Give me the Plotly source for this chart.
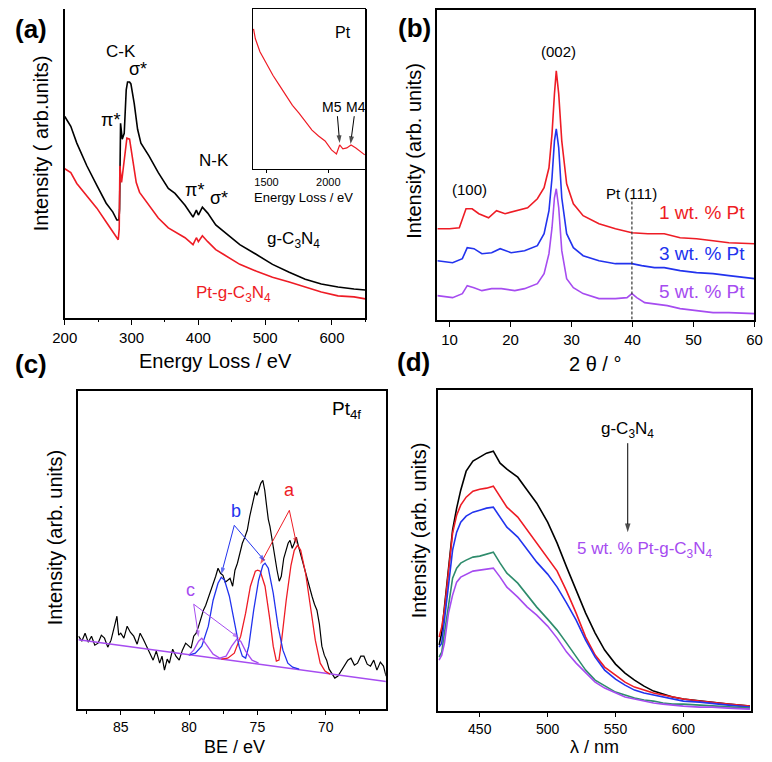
import plotly.graph_objects as go

# ---------------- Panel (a): EELS ----------------
a_black_E = [200, 209, 218, 233, 248, 262, 272, 278, 281, 282, 283.5, 286, 289, 292, 294, 297, 299, 304, 309, 314,
             326, 340, 355, 365, 380, 392, 397, 400, 406, 414, 426, 438, 462, 487, 511, 536, 560, 584, 609, 633, 650]
a_black = [204, 194, 177, 154, 134, 116, 107, 99, 99, 110, 197, 181, 187, 231, 239, 239, 237, 217, 191, 177,
           164, 147, 131, 126, 114, 102, 109, 104, 112, 106, 94, 87, 74, 64, 54, 46, 39, 34, 31, 29, 28]
a_red_E = [200, 209, 218, 233, 248, 262, 272, 280, 281.5, 282.5, 285, 289, 293, 297, 302, 307, 312, 326, 340, 355,
           365, 380, 392, 397, 400, 406, 414, 426, 438, 462, 487, 511, 536, 560, 584, 609, 633, 650]
a_red = [151, 147, 136, 124, 111, 97, 87, 79, 90, 154, 137, 161, 182, 181, 161, 137, 127, 114, 101, 91,
         87, 81, 74, 81, 77, 83, 77, 69, 64, 54, 47, 41, 36, 31, 26, 22, 21, 19]
inset_E = [1395, 1410, 1447, 1500, 1553, 1605, 1658, 1710, 1763, 1816, 1868, 1921, 1974, 2026, 2066, 2092, 2118,
           2150, 2184, 2223, 2295]
inset_I = [141, 131, 118, 106, 94, 84, 74, 64, 56, 48, 39, 33, 28, 19, 15, 24, 20, 21, 24, 21, 14]

# ---------------- Panel (b): XRD ----------------
b_t1 = [8, 10, 11.6, 12.7, 13.7, 14.8, 16.4, 17.7, 19.1, 21.2, 22.8, 24.4, 25.5, 26.3, 26.8, 27.2, 27.5, 27.9, 28.4,
        29.2, 30.3, 31.9, 34.5, 37.2, 39.9, 42.5, 45.2, 47.8, 50.5, 53.2, 55.8, 60]
b_pt1 = [91, 91, 92, 111, 111, 106, 102, 109, 106, 109, 112, 121, 132, 152, 186, 226, 249, 226, 179,
         136, 116, 104, 96, 91, 87, 86, 86, 82, 81, 79, 77, 76]
b_t3 = [8, 10.5, 12.1, 12.9, 14, 15.3, 16.9, 18.3, 20.1, 22.3, 24.4, 25.5, 26.3, 26.8, 27.2, 27.5, 27.9, 28.4, 29.2,
        30.3, 31.9, 34.5, 37.2, 39.9, 41.5, 43.6, 45.2, 47.8, 50.5, 53.2, 55.8, 60]
b_pt3 = [59, 57, 61, 72, 71, 66, 67, 71, 67, 69, 74, 86, 109, 142, 179, 191, 172, 122, 86,
         72, 64, 59, 56, 56, 54, 52, 52, 49, 47, 46, 44, 41]
b_t5 = [8, 10.5, 12.1, 12.9, 14, 15.3, 16.9, 18.5, 20.7, 22.3, 24.4, 25.5, 26.3, 26.8, 27.2, 27.5, 27.9, 28.4, 29.2,
        30.3, 31.9, 34.5, 37.2, 39.1, 39.9, 40.7, 42, 43.6, 45.7, 47.8, 50.5, 53.2, 55.8, 60]
b_pt5 = [24, 22, 26, 34, 32, 29, 31, 31, 29, 31, 36, 46, 66, 92, 122, 131, 112, 69, 41,
         32, 26, 21, 21, 22, 26, 22, 17, 16, 14, 11, 9, 7, 7, 6]
b_pt111 = [39.9, 39.9]
b_pt111_y = [0, 122]

# ---------------- Panel (c): XPS Pt4f ----------------
c_BE = [88.09, 87.85, 87.61, 87.38, 87.14, 86.9, 86.66, 86.42, 86.19, 85.95, 85.71, 85.5, 85.28, 85.15, 85.0,
        84.77, 84.53, 84.3, 84.05, 83.8, 83.58, 83.35, 83.10, 82.85, 82.63, 82.4, 82.15, 81.98, 81.8, 81.6,
        81.44, 81.2, 80.96, 80.72, 80.49, 80.25, 80.02, 79.85, 79.66, 79.48, 79.30, 79.1, 78.95, 78.78, 78.59,
        78.4, 78.24, 78.05, 77.88, 77.7, 77.52, 77.35, 77.17, 77.0, 76.81, 76.64, 76.46, 76.28, 76.10, 75.92,
        75.74, 75.56, 75.39, 75.27, 75.15, 75.03, 74.91, 74.75, 74.60, 74.46, 74.32, 74.2, 74.08, 73.96, 73.84,
        73.7, 73.56, 73.4, 73.25, 73.07, 72.89, 72.75, 72.61, 72.45, 72.30, 72.15, 71.99, 71.85, 71.71, 71.53,
        71.35, 71.18, 71.0, 70.82, 70.64, 70.46, 70.28, 70.1, 69.93, 69.75, 69.57, 69.33, 69.10, 68.86, 68.62,
        68.38, 68.15, 67.9, 67.67, 67.43, 67.20, 66.96, 66.72, 66.48, 66.25, 66.0, 65.77, 65.58]
c_raw = [73, 68, 76, 67, 73, 64, 66, 74, 71, 62, 69, 80, 93, 74, 76,
         71, 83, 77, 73, 65, 76, 70, 63, 55, 49, 58, 46, 53, 39, 50,
         46, 60, 53, 49, 59, 66, 63, 61, 73, 76, 83, 92, 99, 104, 111,
         119, 126, 133, 141, 136, 134, 127, 129, 131, 123, 139, 146, 157, 166, 172,
         179, 193, 203, 212, 218, 214, 219, 226, 229, 219, 203, 190, 183, 172, 163,
         150, 139, 128, 133, 151, 159, 166, 169, 161, 166, 172, 163, 156, 149, 140,
         129, 120, 113, 105, 99, 85, 63, 54, 49, 40, 36, 31, 33, 38, 43,
         49, 51, 44, 46, 53, 53, 45, 43, 49, 39, 47, 43, 33]
c_base_BE = [88.09, 65.58]
c_base = [69.3, 27.7]
c_a_BE = [77.64, 77.17, 76.69, 76.22, 75.86, 75.51, 75.15, 74.98, 74.79, 74.44, 74.08, 73.84, 73.61, 73.42,
          73.25, 72.89, 72.54, 72.30, 72.06, 71.83, 71.47, 71.12, 70.76, 70.40, 70.05, 69.69]
c_a = [50, 51, 56, 73, 96, 123, 138, 139, 138, 123, 89, 63, 48, 49,
       66, 109, 144, 159, 164, 159, 136, 103, 69, 46, 38, 35]
c_b_BE = [80.02, 79.54, 79.07, 78.59, 78.24, 77.88, 77.64, 77.40, 77.05, 76.69, 76.34, 76.10, 75.86, 75.63,
          75.27, 74.91, 74.60, 74.44, 74.20, 73.84, 73.49, 73.13, 72.77, 72.42, 71.94]
c_b = [54, 56, 63, 83, 109, 126, 132, 129, 113, 86, 63, 53, 51, 63,
       99, 129, 144, 146, 141, 116, 83, 59, 46, 42, 40]
c_c_BE = [80.02, 79.66, 79.30, 79.07, 78.71, 78.24, 77.76, 77.29, 76.88, 76.50, 76.22, 75.86, 75.39, 74.91]
c_c = [54, 59, 68, 71, 64, 55, 51, 53, 63, 70, 68, 58, 49, 46]

# ---------------- Panel (d): PL ----------------
d_wl = [420, 422, 424, 427, 430, 433, 436, 440, 445, 450, 455, 460, 465, 470, 478, 485, 492, 500, 507, 514,
        521, 528, 535, 542, 550, 557, 564, 571, 578, 585, 592, 600, 612, 621, 633, 649]
d_g = [66, 78, 104, 141, 181, 203, 221, 240, 250, 254, 258, 260, 248, 242, 234, 221, 208, 189, 168, 144,
       121, 98, 78, 61, 47, 38, 31, 25, 20, 17, 14, 12, 10, 9, 7, 5]
d_1 = [74, 84, 101, 141, 178, 196, 206, 214, 220, 222, 223, 225, 214, 204, 194, 181, 168, 154, 140, 120,
       98, 74, 56, 44, 36, 29, 24, 21, 18, 16, 14, 12, 10, 9, 7, 5]
d_2 = [64, 68, 91, 124, 161, 179, 189, 195, 199, 201, 203, 204, 194, 184, 174, 161, 149, 137, 124, 108,
       91, 71, 54, 41, 32, 26, 21, 18, 16, 14, 12, 10, 9, 8, 6, 4]
d_3 = [54, 59, 78, 108, 133, 143, 148, 151, 154, 155, 157, 159, 148, 138, 128, 116, 104, 92, 81, 68,
       54, 41, 31, 25, 19, 16, 13, 11, 10, 8, 7, 7, 6, 5, 4, 3]
d_5 = [51, 56, 68, 98, 116, 129, 134, 137, 140, 141, 142, 143, 134, 124, 114, 104, 96, 85, 73, 59,
       48, 38, 29, 23, 18, 14, 12, 10, 8, 7, 6, 5, 4, 4, 3, 2]

RED = "#ee1c25"
BLUE = "#2233ee"
PURPLE = "#a64cf0"
GREEN = "#2e8c6c"
FONT = "Liberation Sans, Arial, sans-serif"

W, H = 772, 762
OFF = 8  # page offset of the figure inside the browser window


def px(x):
    return (x - OFF) / W


def py(y):
    return 1 - (y - OFF) / H


fig = go.Figure()

# panel a
fig.add_trace(go.Scatter(x=a_black_E, y=a_black, mode="lines", line=dict(color="black", width=1.6),
                         xaxis="x", yaxis="y"))
fig.add_trace(go.Scatter(x=a_red_E, y=a_red, mode="lines", line=dict(color=RED, width=1.6),
                         xaxis="x", yaxis="y"))
fig.add_trace(go.Scatter(x=inset_E, y=inset_I, mode="lines", line=dict(color=RED, width=1.2),
                         xaxis="x5", yaxis="y5"))
# panel b
fig.add_trace(go.Scatter(x=b_t1, y=b_pt1, mode="lines", line=dict(color=RED, width=1.6), xaxis="x2", yaxis="y2"))
fig.add_trace(go.Scatter(x=b_t3, y=b_pt3, mode="lines", line=dict(color=BLUE, width=1.6), xaxis="x2", yaxis="y2"))
fig.add_trace(go.Scatter(x=b_t5, y=b_pt5, mode="lines", line=dict(color=PURPLE, width=1.6), xaxis="x2", yaxis="y2"))
fig.add_trace(go.Scatter(x=b_pt111, y=b_pt111_y, mode="lines",
                         line=dict(color="#333333", width=1.2, dash="3px,2px"), xaxis="x2", yaxis="y2"))
# panel c
fig.add_trace(go.Scatter(x=c_BE, y=c_raw, mode="lines", line=dict(color="black", width=1.2), xaxis="x3", yaxis="y3"))
fig.add_trace(go.Scatter(x=c_base_BE, y=c_base, mode="lines", line=dict(color=PURPLE, width=1.5), xaxis="x3", yaxis="y3"))
fig.add_trace(go.Scatter(x=c_a_BE, y=c_a, mode="lines", line=dict(color=RED, width=1.3), xaxis="x3", yaxis="y3"))
fig.add_trace(go.Scatter(x=c_b_BE, y=c_b, mode="lines", line=dict(color=BLUE, width=1.3), xaxis="x3", yaxis="y3"))
fig.add_trace(go.Scatter(x=c_c_BE, y=c_c, mode="lines", line=dict(color=PURPLE, width=1.3), xaxis="x3", yaxis="y3"))
# panel d
for ys, col in [(d_g, "black"), (d_1, RED), (d_2, BLUE), (d_3, GREEN), (d_5, PURPLE)]:
    fig.add_trace(go.Scatter(x=d_wl, y=ys, mode="lines", line=dict(color=col, width=1.6), xaxis="x4", yaxis="y4"))


def arrow(tail, tip, xa, ya, color, size=8, width=1.0):
    fig.add_trace(go.Scatter(x=[tail[0], tip[0]], y=[tail[1], tip[1]], mode="lines+markers",
                             line=dict(color=color, width=width),
                             marker=dict(symbol=["circle", "arrow"], size=[0, size], color=color,
                                         angleref="previous", line=dict(width=0)),
                             xaxis=xa, yaxis=ya, hoverinfo="skip"))


# inset arrows
arrow((2074, 53), (2092, 26), "x5", "y5", "black", 8)
arrow((2210, 53), (2180, 25), "x5", "y5", "black", 8)
# panel c arrows
arrow((72.66, 199), (72.13, 165), "x3", "y3", RED, 7)
arrow((72.66, 199), (74.79, 145), "x3", "y3", RED, 7)
arrow((76.69, 184), (77.64, 135), "x3", "y3", BLUE, 7)
arrow((76.69, 184), (74.44, 148), "x3", "y3", BLUE, 7)
arrow((79.66, 105), (79.30, 72), "x3", "y3", PURPLE, 7)
arrow((79.66, 105), (76.34, 71), "x3", "y3", PURPLE, 7)
# panel d arrow
arrow((559, 268), (559, 179), "x4", "y4", "black", 9)

tickfont = dict(family=FONT, size=15, color="black")
common_x = dict(showline=True, linecolor="black", linewidth=1.5, ticks="outside", ticklen=6, tickwidth=1.3,
                tickcolor="black", showgrid=False, zeroline=False, tickfont=tickfont)
bottom_x = dict(common_x)
bottom_x.update(ticklen=4, tickfont=dict(family=FONT, size=14, color="black"))
common_y = dict(showline=True, linecolor="black", linewidth=1.5, ticks="", showticklabels=False,
                showgrid=False, zeroline=False)

fig.update_layout(
    width=W, height=H, margin=dict(l=0, r=0, t=0, b=0),
    paper_bgcolor="white", plot_bgcolor="white", showlegend=False,
    font=dict(family=FONT, color="black"),
    xaxis=dict(**common_x, domain=[px(53), px(362)], range=[200, 650], dtick=100, tick0=0, anchor="y",
               minor=dict(dtick=50, tick0=0, ticklen=3, ticks="outside", tickcolor="black")),
    yaxis=dict(**common_y, domain=[py(317), py(8)], range=[0, 313], anchor="x", mirror=True),
    xaxis2=dict(**common_x, domain=[px(436), px(762)], range=[8, 60], dtick=10, tick0=0, anchor="y2", mirror=True),
    yaxis2=dict(**common_y, domain=[py(319), py(9)], range=[0, 310], anchor="x2", mirror=True),
    xaxis3=dict(**bottom_x, domain=[px(67), px(383)], range=[88.1, 65.6], dtick=5, tick0=0, anchor="y3",
                mirror=True, minor=dict(dtick=2.5, tick0=0, ticklen=3, ticks="outside", tickcolor="black")),
    yaxis3=dict(**common_y, domain=[py(709), py(391)], range=[0, 318], anchor="x3", mirror=True),
    xaxis4=dict(**bottom_x, domain=[px(437), px(758)], range=[419.5, 649.5], dtick=50, tick0=0, anchor="y4",
                mirror=True),
    yaxis4=dict(**common_y, domain=[py(711), py(389)], range=[0, 321.7], anchor="x4", mirror=True),
    xaxis5=dict(showline=True, linecolor="black", linewidth=1, mirror=True, ticks="outside", ticklen=3,
                tickcolor="black", showgrid=False, zeroline=False, range=[1387, 2300], dtick=500, tick0=0,
                tickfont=dict(family=FONT, size=11, color="black"), domain=[px(246), px(362)], anchor="y5"),
    yaxis5=dict(showline=True, linecolor="black", linewidth=1, mirror=True, ticks="", showticklabels=False,
                showgrid=False, zeroline=False, range=[0, 161], domain=[py(168), py(8)], anchor="x5"),
)

ann = []


def T(text, x, y, size, color="black", xref="paper", yref="paper", angle=0, xanchor="center", bold=False):
    if bold:
        text = "<b>" + text + "</b>"
    ann.append(dict(text=text, x=x, y=y, xref=xref, yref=yref, showarrow=False, textangle=angle,
                    xanchor=xanchor, yanchor="middle", font=dict(family=FONT, size=size, color=color)))


# panel letters
T("(a)", px(18), py(28), 26, bold=True)
T("(b)", px(413), py(27), 26, bold=True)
T("(c)", px(18), py(363), 26, bold=True)
T("(d)", px(411), py(361), 26, bold=True)

# axis titles
T("Intensity ( arb.units)", px(28), py(142), 20, angle=-90)
T("Energy Loss / eV", px(208), py(360), 20)
T("Intensity (arb. units)", px(412), py(150), 20, angle=-90)
T("2 θ / °", px(598), py(363), 20)
T("Intensity (arb. units)", px(43), py(537), 20, angle=-90)
T("BE / eV", px(227), py(747), 18)
T("Intensity (arb. units)", px(417), py(530), 20, angle=-90)
T("λ / nm", px(598), py(747), 18)
T("Energy Loss / eV", px(298), py(197), 13)

# panel a labels
T("C-K", 284, 270, 17, xref="x", yref="y")
T("σ*", 310, 252, 18, xref="x", yref="y")
T("π*", 268, 200, 18, xref="x", yref="y")
T("N-K", 423, 159, 17, xref="x", yref="y")
T("π*", 394, 129, 18, xref="x", yref="y")
T("σ*", 431, 121, 18, xref="x", yref="y")
T("g-C<sub>3</sub>N<sub>4</sub>", 543, 79, 17, xref="x", yref="y")
T("Pt-g-C<sub>3</sub>N<sub>4</sub>", 453, 24, 17, color=RED, xref="x", yref="y")
T("Pt", 2118, 137, 16, xref="x5", yref="y5")
T("M5", 2026, 62, 14, xref="x5", yref="y5")
T("M4", 2224, 62, 14, xref="x5", yref="y5")

# panel b labels
T("(100)", 13.2, 130, 15, xref="x2", yref="y2")
T("(002)", 27.9, 268, 15, xref="x2", yref="y2")
T("Pt (111)", 39.9, 126, 15, xref="x2", yref="y2")
T("1 wt. % Pt", 58.8, 107, 19, color=RED, xref="x2", yref="y2", xanchor="right")
T("3 wt. % Pt", 58.8, 66, 19, color=BLUE, xref="x2", yref="y2", xanchor="right")
T("5 wt. % Pt", 58.8, 28, 19, color=PURPLE, xref="x2", yref="y2", xanchor="right")

# panel c labels
T("Pt<sub>4f</sub>", 68.5, 299, 19, xref="x3", yref="y3")
T("a", 72.66, 219, 18, color=RED, xref="x3", yref="y3")
T("b", 76.57, 198, 18, color=BLUE, xref="x3", yref="y3")
T("c", 79.9, 119, 18, color=PURPLE, xref="x3", yref="y3")

# panel d labels
T("g-C<sub>3</sub>N<sub>4</sub>", 559, 281, 17, xref="x4", yref="y4")
T("5 wt. % Pt-g-C<sub>3</sub>N<sub>4</sub>", 572, 161, 17, color=PURPLE, xref="x4", yref="y4")

fig.update_layout(annotations=ann)
fig.write_html("out.html")
